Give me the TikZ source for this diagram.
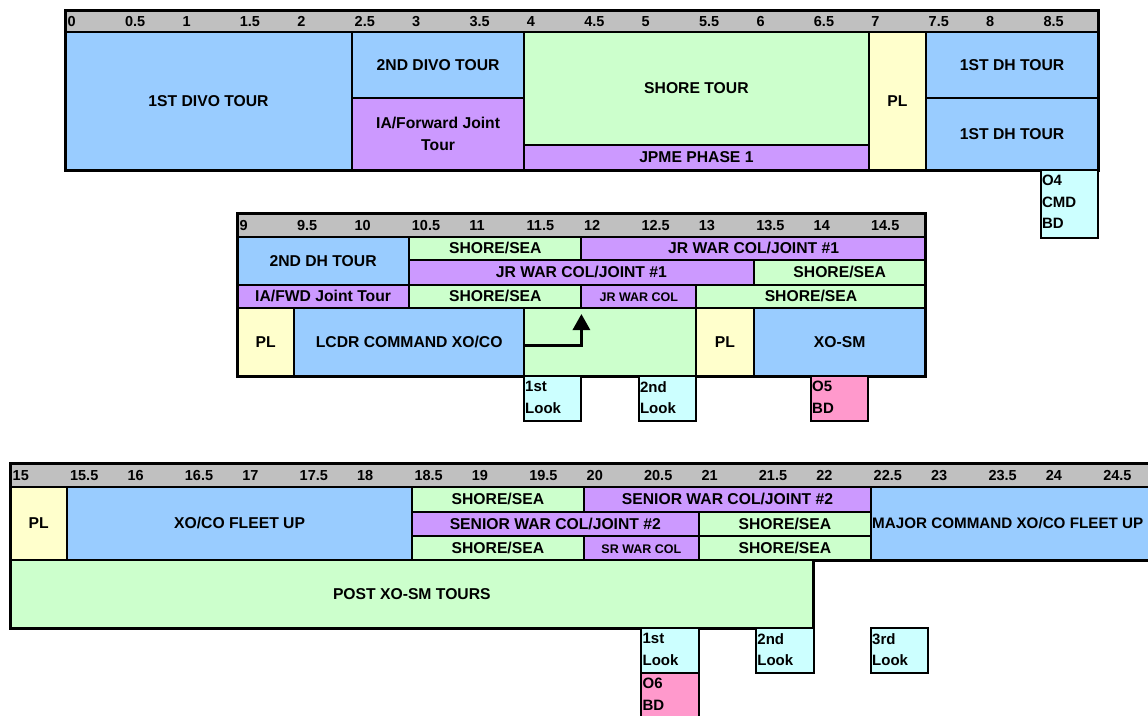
\documentclass[tikz,border=0pt]{standalone}
\usepackage{fontspec}
\setmainfont{Liberation Sans}
\usetikzlibrary{calc,arrows.meta,fit}
\definecolor{cblue}{HTML}{99CCFF}
\definecolor{cgreen}{HTML}{CCFFCC}
\definecolor{cpurple}{HTML}{CC99FF}
\definecolor{cyellow}{HTML}{FFFFCC}
\definecolor{ccyan}{HTML}{CCFFFF}
\definecolor{cpink}{HTML}{FF99CC}
\definecolor{cgray}{HTML}{C0C0C0}
\tikzset{
  cellline/.style={draw=black, line width=2pt},
  txt/.style={font=\fontsize{15.7}{22}\selectfont\bfseries, inner sep=0pt},
  looktxt/.style={font=\fontsize{15}{21.5}\selectfont\bfseries, align=left, anchor=north west, inner sep=0pt, xshift=2pt, yshift=-6pt},
  hdrtxt/.style={font=\fontsize{14.5}{17}\selectfont\bfseries, anchor=base west, inner sep=0pt, xshift=2.5pt},
  bandframe/.style={draw=black, line width=3pt},
  arrowline/.style={line width=3pt, -{Triangle[width=17pt,length=16pt]}},
}
% name, x1, y1, x2, y2, colour, text
\newcommand\cellbx[7]{%
  \node[fit={(#2,#3) (#4,#5)}, inner sep=0pt, cellline, fill=#6] (#1) {};
  \node[txt, anchor=base] (#1-t) at ([yshift=-5.3pt]#1.center) {#7};}
\newcommand\lookbx[7]{%
  \node[fit={(#2,#3) (#4,#5)}, inner sep=0pt, cellline, fill=#6] (#1) {};
  \node[looktxt] (#1-t) at (#1.north west) {#7};}
\newcommand\smallt[1]{{\fontsize{12.5}{15}\selectfont #1}}
\begin{document}
\begin{tikzpicture}[x=1pt,y=-1pt]
\useasboundingbox (0,0) rectangle (1148,715);
\fill[white] (0,0) rectangle (1148,715);
\clip (0,0) rectangle (1148,715);

% ---------------- Band 1 ----------------
\begin{scope}[xshift=65pt, x=57.4pt, y=-1pt]
  \node[fit={(0,10) (18,32)}, inner sep=0pt, cellline, fill=cgray] (h1) {};
  \foreach \lab [count=\i from 0] in {0,0.5,1,1.5,2,2.5,3,3.5,4,4.5,5,5.5,6,6.5,7,7.5,8,8.5}
    \node[hdrtxt] (ha\i) at (\i,26.5) {\lab};
  \cellbx{divo1}{0}{32}{5}{170}{cblue}{1ST DIVO TOUR}
  \cellbx{divo2}{5}{32}{8}{98}{cblue}{2ND DIVO TOUR}
  \node[fit={(5,98) (8,170)}, inner sep=0pt, cellline, fill=cpurple] (iafwd) {};
  \node[txt, align=center, anchor=north] (iafwd-t) at ([yshift=17.5pt]iafwd.center) {IA/Forward Joint\\Tour};
  \cellbx{shore1}{8}{32}{14}{145}{cgreen}{SHORE TOUR}
  \cellbx{jpme}{8}{145}{14}{170}{cpurple}{JPME PHASE 1}
  \cellbx{pl1}{14}{32}{15}{170}{cyellow}{PL}
  \cellbx{dh1a}{15}{32}{18}{98}{cblue}{1ST DH TOUR}
  \cellbx{dh1b}{15}{98}{18}{170}{cblue}{1ST DH TOUR}
  \draw[bandframe] (0,10) rectangle (18,170);
  \lookbx{o4}{17}{170}{18}{238}{ccyan}{O4\\CMD\\BD}
\end{scope}

% ---------------- Band 2 ----------------
\begin{scope}[xshift=237pt, x=57.4pt, y=-1pt]
  \node[fit={(0,213) (12,237)}, inner sep=0pt, cellline, fill=cgray] (h2) {};
  \foreach \lab [count=\i from 0] in {9,9.5,10,10.5,11,11.5,12,12.5,13,13.5,14,14.5}
    \node[hdrtxt] (hb\i) at (\i,230.5) {\lab};
  \cellbx{dh2}{0}{237}{3}{285}{cblue}{2ND DH TOUR}
  \cellbx{ss1}{3}{237}{6}{260}{cgreen}{SHORE/SEA}
  \cellbx{jr1}{6}{237}{12}{260}{cpurple}{JR WAR COL/JOINT \#1}
  \cellbx{jr2}{3}{260}{9}{285}{cpurple}{JR WAR COL/JOINT \#1}
  \cellbx{ss2}{9}{260}{12}{285}{cgreen}{SHORE/SEA}
  \cellbx{iafwd2}{0}{285}{3}{308}{cpurple}{IA/FWD Joint Tour}
  \cellbx{ss3}{3}{285}{6}{308}{cgreen}{SHORE/SEA}
  \cellbx{jr3}{6}{285}{8}{308}{cpurple}{\smallt{JR WAR COL}}
  \cellbx{ss4}{8}{285}{12}{308}{cgreen}{SHORE/SEA}
  \cellbx{pl2}{0}{308}{1}{376}{cyellow}{PL}
  \cellbx{lcdr}{1}{308}{5}{376}{cblue}{LCDR COMMAND XO/CO}
  \node[fit={(5,308) (8,376)}, inner sep=0pt, cellline, fill=cgreen] (g2) {};
  \cellbx{pl3}{8}{308}{9}{376}{cyellow}{PL}
  \cellbx{xosm}{9}{308}{12}{376}{cblue}{XO-SM}
  \coordinate (arrtip) at (6,314);
  \draw[arrowline] ([yshift=-3pt]g2.west) -| (arrtip);
  \draw[bandframe] (0,213) rectangle (12,376);
  \lookbx{look1}{5}{376}{6}{421}{ccyan}{1st\\Look}
  \lookbx{look2}{7}{376}{8}{421}{ccyan}{2nd\\Look}
  \lookbx{o5}{10}{376}{11}{421}{cpink}{O5\\BD}
\end{scope}

% ---------------- Band 3 ----------------
\begin{scope}[xshift=10pt, x=57.4pt, y=-1pt]
  \node[fit={(0,463) (20,487)}, inner sep=0pt, cellline, fill=cgray] (h3) {};
  \foreach \lab [count=\i from 0] in {15,15.5,16,16.5,17,17.5,18,18.5,19,19.5,20,20.5,21,21.5,22,22.5,23,23.5,24,24.5}
    \node[hdrtxt] (hc\i) at (\i,480.5) {\lab};
  \cellbx{pl4}{0}{487}{1}{560}{cyellow}{PL}
  \cellbx{xoco}{1}{487}{7}{560}{cblue}{XO/CO FLEET UP}
  \cellbx{ss5}{7}{487}{10}{512}{cgreen}{SHORE/SEA}
  \cellbx{sr1}{10}{487}{15}{512}{cpurple}{SENIOR WAR COL/JOINT \#2}
  \cellbx{sr2}{7}{512}{12}{536}{cpurple}{SENIOR WAR COL/JOINT \#2}
  \cellbx{ss6}{12}{512}{15}{536}{cgreen}{SHORE/SEA}
  \cellbx{ss7}{7}{536}{10}{560}{cgreen}{SHORE/SEA}
  \cellbx{sr3}{10}{536}{12}{560}{cpurple}{\smallt{SR WAR COL}}
  \cellbx{ss8}{12}{536}{15}{560}{cgreen}{SHORE/SEA}
  \node[fit={(15,487) (20,560)}, inner sep=0pt, cellline, fill=cblue] (major) {};
  \node[txt, anchor=base west, font=\fontsize{15.2}{22}\selectfont\bfseries] (major-t) at ([xshift=2pt, yshift=-5.3pt]major.center -| major.west) {MAJOR COMMAND XO/CO FLEET UP};
  \cellbx{post}{0}{560}{14}{628}{cgreen}{POST XO-SM TOURS}
  \draw[bandframe] (0,463) -- (20,463) -- (20,560) -- (14,560) -- (14,628) -- (0,628) -- cycle;
  \lookbx{look3}{11}{628}{12}{673}{ccyan}{1st\\Look}
  \lookbx{o6}{11}{673}{12}{718}{cpink}{O6\\BD}
  \lookbx{look4}{13}{628}{14}{673}{ccyan}{2nd\\Look}
  \lookbx{look5}{15}{628}{16}{673}{ccyan}{3rd\\Look}
\end{scope}
\end{tikzpicture}
\end{document}
